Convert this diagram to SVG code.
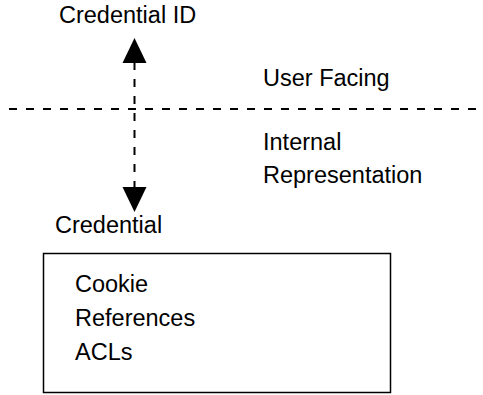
<svg xmlns="http://www.w3.org/2000/svg" width="483" height="395" viewBox="0 0 483 395">
<style>
text{font-family:"Liberation Sans",Arial,sans-serif;font-size:23.5px;fill:#000}
.dash{stroke:#000;stroke-width:2;stroke-dasharray:8 9;fill:none}
</style>
<rect width="483" height="395" fill="#fff"/>
<g id="connectors">
<line class="dash" x1="9" y1="109" x2="483" y2="109"/>
<line class="dash" x1="134.5" y1="62" x2="134.5" y2="188"/>
<polygon points="134.5,38 146.5,63 122.5,63" fill="#000"/>
<polygon points="134.5,212 146.5,187 122.5,187" fill="#000"/>
</g>
<g id="credential-id"><text x="59" y="23">Credential ID</text></g>
<g id="user-facing"><text x="263" y="86">User Facing</text></g>
<g id="internal"><text x="263" y="150">Internal</text><text x="263" y="183">Representation</text></g>
<g id="credential"><text x="55" y="233">Credential</text>
<rect x="43.5" y="253.5" width="347" height="139" fill="none" stroke="#000" stroke-width="1.5"/>
<text x="75" y="292">Cookie</text><text x="75" y="326">References</text><text x="75" y="360">ACLs</text></g>
</svg>
